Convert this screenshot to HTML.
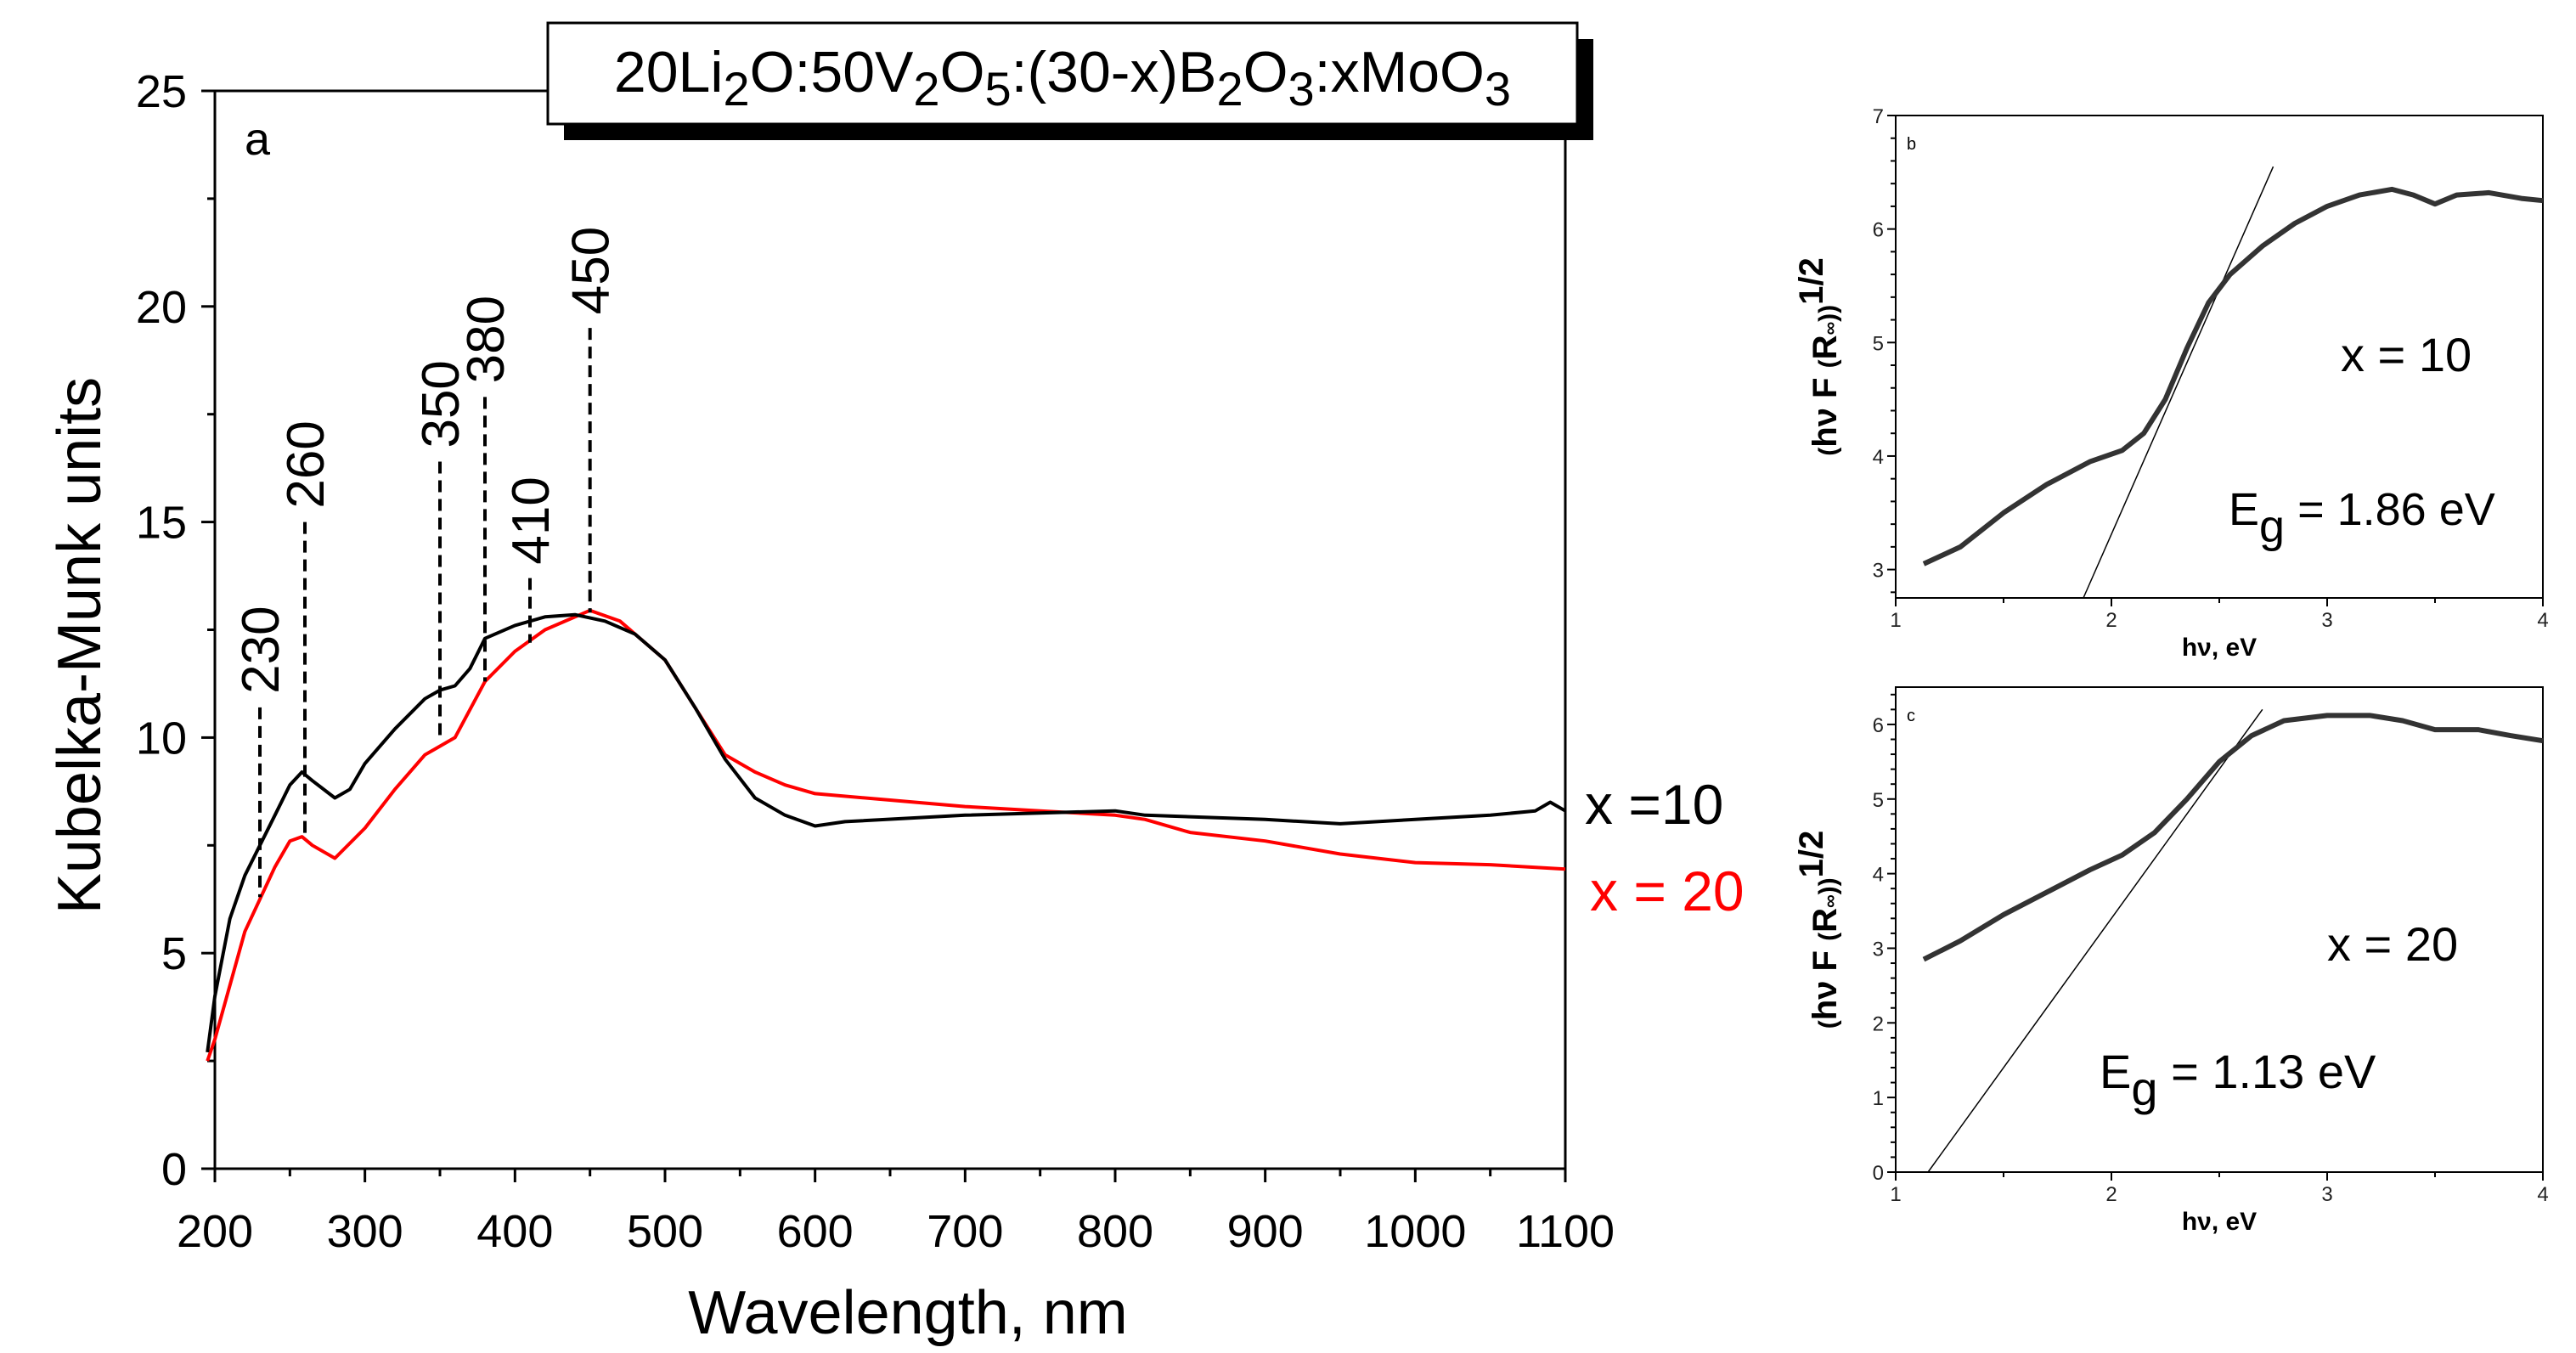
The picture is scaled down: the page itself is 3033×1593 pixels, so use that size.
<!DOCTYPE html>
<html><head><meta charset="utf-8"><style>
html,body{margin:0;padding:0;background:#fff}
svg{display:block;font-family:"Liberation Sans",Arial,sans-serif}
</style></head><body>
<svg id="s" width="3033" height="1593" viewBox="0 0 3033 1593"></svg>
<script>
// Panel a data
const wlBlack=[195,200,210,220,230,240,250,258,265,280,290,300,320,340,350,360,370,380,400,420,440,460,480,500,520,540,560,580,600,620,700,800,820,900,950,1000,1050,1080,1090,1100];
const kmBlack=[2.7,4,5.8,6.8,7.5,8.2,8.9,9.2,9.0,8.6,8.8,9.4,10.2,10.9,11.1,11.2,11.6,12.3,12.6,12.8,12.85,12.7,12.4,11.8,10.7,9.5,8.6,8.2,7.95,8.05,8.2,8.3,8.2,8.1,8.0,8.1,8.2,8.3,8.5,8.3];
const wlRed=[195,200,220,240,250,258,265,280,300,320,340,360,380,400,420,450,470,500,520,540,560,580,600,650,700,750,800,820,850,900,950,1000,1050,1100];
const kmRed=[2.5,3,5.5,7,7.6,7.7,7.5,7.2,7.9,8.8,9.6,10.0,11.3,12.0,12.5,12.95,12.7,11.8,10.7,9.6,9.2,8.9,8.7,8.55,8.4,8.3,8.2,8.1,7.8,7.6,7.3,7.1,7.05,6.95];
const peakWl=[230,260,350,380,410,450];
const peakTop=[10.7,15.0,16.4,17.9,13.7,19.5];
const peakBottom=[6.3,7.7,10.0,11.3,12.2,12.9];
const xTicksA=[200,300,400,500,600,700,800,900,1000,1100];
const yTicksA=[0,5,10,15,20,25];
// Panel b data
const hvB=[1.13,1.3,1.5,1.7,1.9,2.05,2.15,2.25,2.35,2.45,2.55,2.7,2.85,3.0,3.15,3.3,3.4,3.5,3.6,3.75,3.9,4.0];
const fB=[3.05,3.2,3.5,3.75,3.95,4.05,4.2,4.5,4.95,5.35,5.6,5.85,6.05,6.2,6.3,6.35,6.3,6.22,6.3,6.32,6.27,6.25];
const tanB=[[1.87,2.75],[2.75,6.55]];
const yTicksB=[3,4,5,6,7];
// Panel c data
const hvC=[1.13,1.3,1.5,1.7,1.9,2.05,2.2,2.35,2.5,2.65,2.8,3.0,3.2,3.35,3.5,3.7,3.85,4.0];
const fC=[2.85,3.1,3.45,3.75,4.05,4.25,4.55,5.0,5.5,5.85,6.05,6.12,6.12,6.05,5.93,5.93,5.85,5.78];
const tanC=[[1.15,0],[2.7,6.2]];
const yTicksC=[0,1,2,3,4,5,6];
const xTicksBC=[1,2,3,4];

const S=document.getElementById('s');const NS='http://www.w3.org/2000/svg';
function el(t,a,txt){const e=document.createElementNS(NS,t);for(const k in a)e.setAttribute(k,a[k]);if(txt!==undefined)e.textContent=txt;S.appendChild(e);return e;}
function lin(d0,d1,r0,r1){return v=>r0+(v-d0)*(r1-r0)/(d1-d0);}

// ---- Panel a
const xa=lin(200,1100,253,1843), ya=lin(0,25,1376,107);
let e;
e=el('rect',{x:253,y:107,width:1590,height:1269,fill:'none',stroke:'#000','stroke-width':3});

for(let v=200;v<=1100;v+=50){const big=v%100===0;el('line',{x1:xa(v),x2:xa(v),y1:1376,y2:1376+(big?16:9),stroke:'#000','stroke-width':3});}
for(let v=0;v<=25;v+=2.5){const big=v%5===0;el('line',{x1:253,x2:253-(big?16:9),y1:ya(v),y2:ya(v),stroke:'#000','stroke-width':3});}
xTicksA.forEach(v=>{e=el('text',{x:xa(v),y:1468,'font-size':54,'text-anchor':'middle'},v);});
yTicksA.forEach(v=>{e=el('text',{x:220,y:ya(v)+19,'font-size':54,'text-anchor':'end'},v);});
e=el('text',{x:1069,y:1570,'font-size':72,'text-anchor':'middle'},'Wavelength, nm');
e=el('text',{x:118,y:760,'font-size':72,'text-anchor':'middle',transform:'rotate(-90 118 760)'},'Kubelka-Munk units');
e=el('text',{x:288,y:182,'font-size':54},'a');
function path(xs,ys,fx,fy){return xs.map((x,i)=>(i?'L':'M')+fx(x).toFixed(1)+' '+fy(ys[i]).toFixed(1)).join(' ');}
e=el('path',{d:path(wlRed,kmRed,xa,ya),fill:'none',stroke:'#f00','stroke-width':4,'stroke-linejoin':'round'});
e=el('path',{d:path(wlBlack,kmBlack,xa,ya),fill:'none',stroke:'#000','stroke-width':4,'stroke-linejoin':'round'});
peakWl.forEach((w,i)=>{
  e=el('line',{x1:xa(w),x2:xa(w),y1:ya(peakTop[i]),y2:ya(peakBottom[i]),stroke:'#000','stroke-width':4,'stroke-dasharray':'14 8'});
  
  const tx=xa(w)+22, ty=ya(peakTop[i])-16;
  e=el('text',{x:tx,y:ty,'font-size':62,transform:'rotate(-90 '+tx+' '+ty+')'},w);
  
});
e=el('text',{x:1866,y:970,'font-size':66},'x =10');
e=el('text',{x:1872,y:1072,'font-size':66,fill:'#f00'},'x = 20');
el('rect',{x:664,y:46,width:1212,height:119,fill:'#000'});
e=el('rect',{x:645,y:27,width:1212,height:119,fill:'#fff',stroke:'#000','stroke-width':3});
e=el('text',{x:1251,y:108,'font-size':68,'text-anchor':'middle'});
e.innerHTML='20Li<tspan dy="16" font-size="56">2</tspan><tspan dy="-16">O:50V</tspan><tspan dy="16" font-size="56">2</tspan><tspan dy="-16">O</tspan><tspan dy="16" font-size="56">5</tspan><tspan dy="-16">:(30-x)B</tspan><tspan dy="16" font-size="56">2</tspan><tspan dy="-16">O</tspan><tspan dy="16" font-size="56">3</tspan><tspan dy="-16">:xMoO</tspan><tspan dy="16" font-size="56">3</tspan>';

// ---- Panels b, c
function small(name,top,bot,ymin,ymax,yTicks,hv,f,tan,lbl,xtxt,egtxt,txy,egxy,egfs){
  const x=lin(1,4,2232,2994), y=lin(ymin,ymax,bot,top);
  e=el('rect',{x:2232,y:top,width:762,height:bot-top,fill:'none',stroke:'#000','stroke-width':2});
  
  for(let v=1;v<=4.001;v+=0.5){el('line',{x1:x(v),x2:x(v),y1:bot,y2:bot+(v%1===0?10:6),stroke:'#000','stroke-width':2});}
  for(let v=Math.ceil(ymin*5)/5;v<=ymax+0.001;v+=0.2){const big=Math.abs(v-Math.round(v))<0.01;el('line',{x1:2232,x2:2232-(big?10:6),y1:y(v),y2:y(v),stroke:'#000','stroke-width':2});}
  xTicksBC.forEach(v=>{e=el('text',{x:x(v),y:bot+34,'font-size':24,'text-anchor':'middle',fill:'#222'},v);});
  yTicks.forEach(v=>{e=el('text',{x:2218,y:y(v)+9,'font-size':24,'text-anchor':'end',fill:'#222'},v);});
  e=el('text',{x:2613,y:bot+68,'font-size':30,'font-weight':'bold','text-anchor':'middle'},'hν, eV');
  const cy=(top+bot)/2, cx=2162;
  e=el('text',{x:cx,y:cy,'font-size':40,'font-weight':'bold','text-anchor':'middle',transform:'rotate(-90 '+cx+' '+cy+')'});
  e.innerHTML='<tspan font-size="30">(</tspan>hν F <tspan font-size="30">(</tspan>R<tspan font-size="22">∞</tspan><tspan font-size="30">))</tspan><tspan dy="-16">1/2</tspan>';
  
  e=el('text',{x:2245,y:top+40,'font-size':20},lbl);
  e=el('line',{x1:x(tan[0][0]),y1:y(tan[0][1]),x2:x(tan[1][0]),y2:y(tan[1][1]),stroke:'#000','stroke-width':1.5});
  e=el('path',{d:path(hv,f,x,y),fill:'none',stroke:'#333','stroke-width':6,'stroke-linejoin':'round'});
  e=el('text',{x:txy[0],y:txy[1],'font-size':56},xtxt);
  e=el('text',{x:egxy[0],y:egxy[1],'font-size':egfs});e.innerHTML='E<tspan dy="20">g</tspan><tspan dy="-20"> = '+egtxt+' eV</tspan>';
  
}
small('panel-b',136,704,2.75,7,yTicksB,hvB,fB,tanB,'b','x = 10','1.86',[2756,437],[2624,618],54);
small('panel-c',809,1380,0,6.5,yTicksC,hvC,fC,tanC,'c','x = 20','1.13',[2740,1131],[2472,1281],56);
</script>
</body></html>
